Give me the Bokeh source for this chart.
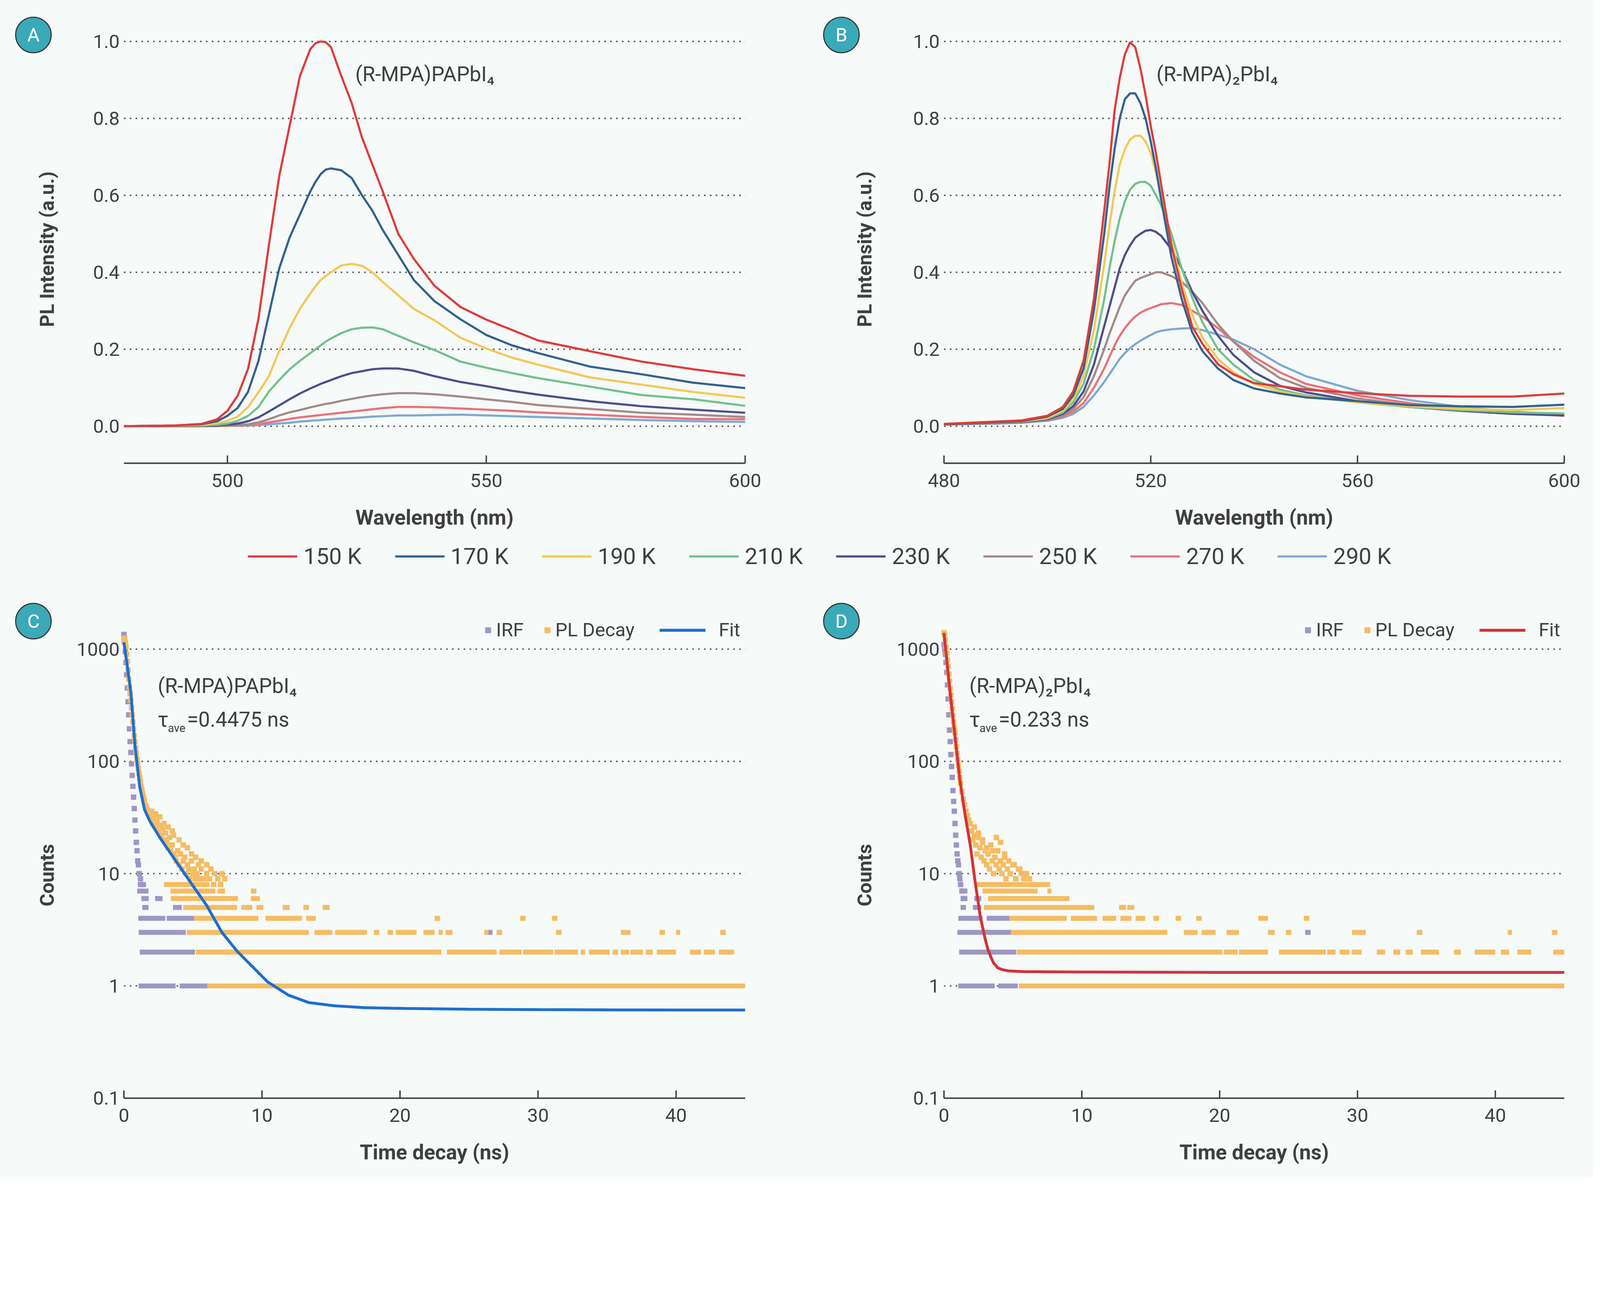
from bokeh.plotting import figure
from bokeh.models import ColumnDataSource, Label, Legend, LegendItem, Range1d
from bokeh.core.properties import value
from bokeh.layouts import column, row
from bokeh.embed import file_html
from bokeh.resources import INLINE

BG = "#f6faf9"
INK = "#404040"
TEAL = "#3aa9b8"

# ---------------- temperature series ----------------
temps = ["150 K", "170 K", "190 K", "210 K", "230 K", "250 K", "270 K", "290 K"]
temp_colors = ["#e03c3a", "#33628f", "#f3c955", "#72c18d", "#4e4e8c", "#a38a88", "#e8737a", "#7ea9d3"]

# panel A: (R-MPA)PAPbI4
wl_a = [480, 490, 495, 498, 500, 502, 504, 506, 508, 510, 512, 514, 516, 517, 518, 519, 520, 522,
        524, 526, 528, 530, 533, 536, 540, 545, 550, 555, 560, 570, 580, 590, 600]
pl_a_150 = [0, 0.002, 0.006, 0.018, 0.04, 0.08, 0.15, 0.28, 0.47, 0.65, 0.78, 0.91, 0.98, 0.995, 1.0, 0.998, 0.985, 0.91,
            0.84, 0.75, 0.68, 0.61, 0.50, 0.435, 0.365, 0.31, 0.277, 0.25, 0.223, 0.195, 0.168, 0.148, 0.131]
pl_a_170 = [0, 0.002, 0.005, 0.013, 0.027, 0.048, 0.09, 0.17, 0.29, 0.41, 0.49, 0.55, 0.61, 0.635, 0.655, 0.667, 0.67, 0.665,
            0.645, 0.60, 0.56, 0.51, 0.445, 0.38, 0.325, 0.278, 0.237, 0.21, 0.19, 0.155, 0.135, 0.113, 0.099]
pl_a_190 = [0, 0.001, 0.003, 0.008, 0.014, 0.025, 0.05, 0.088, 0.13, 0.195, 0.255, 0.305, 0.345, 0.363, 0.38, 0.39, 0.40, 0.418,
            0.422, 0.417, 0.40, 0.375, 0.34, 0.305, 0.275, 0.23, 0.202, 0.178, 0.16, 0.127, 0.108, 0.089, 0.074]
pl_a_210 = [0, 0.001, 0.002, 0.004, 0.007, 0.014, 0.027, 0.05, 0.09, 0.12, 0.148, 0.17, 0.19, 0.20, 0.21, 0.22, 0.228, 0.242,
            0.252, 0.256, 0.257, 0.252, 0.235, 0.218, 0.198, 0.168, 0.152, 0.138, 0.125, 0.103, 0.081, 0.07, 0.053]
pl_a_230 = [0, 0, 0.001, 0.002, 0.004, 0.007, 0.013, 0.023, 0.038, 0.054, 0.07, 0.085, 0.098, 0.104, 0.11, 0.115, 0.12, 0.13,
            0.138, 0.143, 0.148, 0.15, 0.15, 0.144, 0.13, 0.115, 0.104, 0.092, 0.082, 0.065, 0.052, 0.043, 0.035]
pl_a_250 = [0, 0, 0.001, 0.001, 0.002, 0.003, 0.005, 0.01, 0.018, 0.028, 0.036, 0.042, 0.049, 0.052, 0.055, 0.058, 0.06, 0.066,
            0.071, 0.076, 0.08, 0.083, 0.086, 0.086, 0.083, 0.077, 0.07, 0.063, 0.055, 0.045, 0.035, 0.03, 0.024]
pl_a_270 = [0, 0, 0, 0.001, 0.001, 0.002, 0.003, 0.005, 0.01, 0.014, 0.019, 0.023, 0.026, 0.0275, 0.029, 0.0305, 0.032, 0.035,
            0.038, 0.041, 0.044, 0.047, 0.05, 0.05, 0.049, 0.046, 0.043, 0.04, 0.036, 0.03, 0.024, 0.019, 0.018]
pl_a_290 = [0, 0, 0, 0, 0.001, 0.001, 0.002, 0.003, 0.005, 0.007, 0.009, 0.012, 0.014, 0.015, 0.016, 0.017, 0.018, 0.02,
            0.021, 0.023, 0.025, 0.026, 0.028, 0.028, 0.029, 0.03, 0.028, 0.026, 0.024, 0.02, 0.016, 0.013, 0.011]

# panel B: (R-MPA)2PbI4
wl_b = [480, 490, 495, 500, 503, 505, 507, 509, 511, 512, 513, 514, 515, 516, 517, 518, 519, 520,
        521, 522, 524, 526, 528, 530, 533, 536, 540, 545, 550, 560, 570, 580, 590, 600]
pl_b_150 = [0.006, 0.012, 0.015, 0.027, 0.05, 0.09, 0.17, 0.33, 0.56, 0.68, 0.82, 0.905, 0.967, 0.998, 0.985, 0.93, 0.86, 0.78,
            0.71, 0.63, 0.47, 0.356, 0.26, 0.214, 0.161, 0.135, 0.112, 0.104, 0.095, 0.086, 0.079, 0.077, 0.077, 0.085]
pl_b_170 = [0.005, 0.01, 0.013, 0.025, 0.045, 0.08, 0.15, 0.30, 0.50, 0.62, 0.72, 0.80, 0.85, 0.865, 0.865, 0.84, 0.80, 0.74,
            0.67, 0.59, 0.44, 0.33, 0.245, 0.195, 0.15, 0.12, 0.098, 0.085, 0.075, 0.065, 0.055, 0.052, 0.05, 0.056]
pl_b_190 = [0.005, 0.009, 0.012, 0.022, 0.04, 0.07, 0.13, 0.25, 0.42, 0.52, 0.61, 0.68, 0.72, 0.745, 0.755, 0.755, 0.74, 0.71,
            0.66, 0.60, 0.48, 0.37, 0.29, 0.23, 0.175, 0.14, 0.11, 0.09, 0.077, 0.062, 0.052, 0.045, 0.042, 0.047]
pl_b_210 = [0.005, 0.009, 0.012, 0.02, 0.036, 0.062, 0.11, 0.20, 0.33, 0.41, 0.48, 0.54, 0.585, 0.615, 0.63, 0.635, 0.635, 0.625,
            0.60, 0.575, 0.50, 0.41, 0.335, 0.27, 0.20, 0.16, 0.12, 0.095, 0.08, 0.062, 0.05, 0.042, 0.036, 0.033]
pl_b_230 = [0.005, 0.008, 0.011, 0.018, 0.032, 0.052, 0.09, 0.16, 0.26, 0.31, 0.36, 0.41, 0.445, 0.47, 0.49, 0.50, 0.508, 0.51,
            0.505, 0.495, 0.46, 0.41, 0.35, 0.30, 0.235, 0.185, 0.14, 0.105, 0.088, 0.065, 0.05, 0.04, 0.032, 0.028]
pl_b_250 = [0.005, 0.008, 0.01, 0.017, 0.028, 0.045, 0.075, 0.13, 0.20, 0.24, 0.275, 0.31, 0.34, 0.36, 0.378, 0.385, 0.39, 0.395,
            0.40, 0.40, 0.39, 0.375, 0.35, 0.32, 0.265, 0.22, 0.17, 0.125, 0.10, 0.072, 0.055, 0.043, 0.035, 0.028]
pl_b_270 = [0.005, 0.008, 0.01, 0.016, 0.025, 0.038, 0.06, 0.10, 0.15, 0.18, 0.21, 0.235, 0.255, 0.272, 0.285, 0.295, 0.302, 0.307,
            0.312, 0.317, 0.32, 0.315, 0.30, 0.285, 0.255, 0.22, 0.18, 0.14, 0.11, 0.08, 0.06, 0.045, 0.035, 0.027]
pl_b_290 = [0.004, 0.007, 0.009, 0.014, 0.022, 0.032, 0.05, 0.08, 0.115, 0.135, 0.155, 0.175, 0.19, 0.203, 0.213, 0.222, 0.23, 0.237,
            0.244, 0.248, 0.252, 0.254, 0.255, 0.25, 0.238, 0.225, 0.20, 0.16, 0.13, 0.092, 0.068, 0.05, 0.038, 0.03]

pl_ticks = [0, 0.2, 0.4, 0.6, 0.8, 1.0]
pl_tick_labels = ["0.0", "0.2", "0.4", "0.6", "0.8", "1.0"]
wl_ticks_a = [500, 550, 600]
wl_ticks_b = [480, 520, 560, 600]

# ---------------- decay panels ----------------
IRF_COLOR = "#9f96c4"
PL_COLOR = "#f5bc63"
count_ticks = [0.1, 1, 10, 100, 1000]
count_tick_labels = ["0.1", "1", "10", "100", "1000"]
count_grid = [1, 10, 100, 1000]
time_ticks = [0, 10, 20, 30, 40]

# panel C (R-MPA)PAPbI4: steep part of the curves, then runs of markers at integer count levels
irf_c_t = [0.0, 0.05, 0.1, 0.15, 0.2, 0.25, 0.3, 0.35, 0.4, 0.45, 0.5, 0.55, 0.6, 0.65, 0.7, 0.75, 0.8,
           0.85, 0.9, 0.95, 1.0, 1.05, 1.1, 1.2, 1.3]
irf_c_n = [1350, 1150, 950, 760, 590, 450, 340, 260, 195, 150, 120, 95, 75, 60, 48, 38, 30,
           24, 19, 16, 13, 12, 10, 9, 8]
pl_c_t = [0.0, 0.05, 0.1, 0.15, 0.2, 0.25, 0.3, 0.35, 0.4, 0.45, 0.5, 0.55, 0.6, 0.65, 0.7, 0.75, 0.8,
          0.85, 0.9, 0.95, 1.0, 1.05, 1.1, 1.15, 1.2, 1.25, 1.3, 1.35, 1.4, 1.45, 1.5, 1.6, 1.7, 1.8,
          1.9, 2.0, 2.1, 2.2, 2.3, 2.4, 2.5, 2.6, 2.7, 2.8, 2.9, 3.0, 3.1, 3.2, 3.3, 3.4, 3.5, 3.6,
          3.7, 3.8, 3.9, 4.0, 4.1, 4.2, 4.3, 4.4, 4.5, 4.6, 4.7, 4.8, 4.9, 5.0, 5.1, 5.2, 5.3, 5.4,
          5.5, 5.6, 5.8, 6.0, 6.2, 6.5, 6.8, 7.1, 7.3,
          2.0, 2.3, 2.6, 2.9, 3.2, 3.5, 3.6, 4.0, 4.3, 4.6, 4.9, 5.2, 5.6, 6.0, 6.3, 6.6, 7.0]
pl_c_n = [1200, 1250, 1150, 1050, 900, 780, 650, 540, 460, 400, 350, 300, 260, 225, 195, 170, 150,
          132, 118, 105, 95, 86, 78, 72, 66, 60, 56, 52, 49, 46, 44, 40, 37, 35,
          33, 30, 28, 31, 26, 29, 24, 27, 22, 25, 20, 23, 19, 17, 21, 16, 18, 15,
          14, 13, 16, 12, 15, 11, 13, 14, 10, 12, 11, 9, 13, 10, 11, 9, 10, 12,
          9, 11, 9, 10, 9, 8, 9, 10, 9,
          36, 34, 32, 28, 26, 24, 22, 20, 18, 17, 15, 14, 13, 12, 11, 10, 8]
irf_c_runs = [(1, 1.07, 3.74), (1, 4.04, 6.04), (2, 1.15, 5.15), (3, 1.07, 4.48), (3, 26.4, 26.7),
              (4, 1.04, 3.0), (4, 3.1, 5.1), (5, 1.33, 1.78), (5, 3.56, 4.19), (6, 1.26, 1.8),
              (6, 2.26, 2.8), (7, 0.96, 1.78), (8, 1.0, 1.6)]
pl_c_runs = [(1, 6.04, 45.0),
             (2, 5.22, 23.0), (2, 23.4, 27.0), (2, 27.2, 28.8), (2, 28.9, 31.1), (2, 31.2, 32.9),
             (2, 33.1, 33.4), (2, 33.7, 35.2), (2, 35.4, 35.8), (2, 36.0, 36.6), (2, 36.7, 37.6),
             (2, 37.8, 38.3), (2, 38.6, 40.0), (2, 41.0, 41.8), (2, 42.0, 42.8), (2, 43.1, 44.2),
             (3, 4.55, 13.4), (3, 13.8, 15.1), (3, 15.3, 17.6), (3, 18.1, 18.5), (3, 19.1, 19.5),
             (3, 19.7, 21.2), (3, 21.7, 22.5), (3, 22.8, 23.1), (3, 23.3, 23.8), (3, 26.1, 26.4),
             (3, 27.0, 27.4), (3, 31.3, 31.7), (3, 36.0, 36.7), (3, 38.8, 39.2), (3, 40.0, 40.3),
             (3, 43.2, 43.6),
             (4, 5.1, 9.74), (4, 10.26, 12.9), (4, 13.2, 13.9), (4, 22.5, 22.9), (4, 28.7, 29.1),
             (4, 31.0, 31.4),
             (5, 4.3, 8.2), (5, 8.5, 9.3), (5, 9.6, 10.1), (5, 11.5, 12.0), (5, 13.0, 13.4), (5, 14.4, 14.9),
             (6, 3.4, 8.26), (6, 9.2, 9.85),
             (7, 3.37, 6.63), (7, 6.8, 7.33), (7, 9.2, 9.6),
             (8, 2.9, 6.2)]
fit_c_t = [0, 0.25, 0.5, 0.8, 1.15, 1.5, 1.9, 2.6, 3.7, 4.85, 6.0, 7.1, 8.2, 9.3, 10.4, 11.9,
           13.4, 15.2, 17.4, 20.4, 25, 30, 35, 40, 45]
fit_c_n = [1150, 700, 415, 139, 59, 37, 29, 21, 13.3, 8.3, 5.2, 3.0, 2.04, 1.49, 1.09, 0.83,
           0.71, 0.667, 0.64, 0.63, 0.62, 0.615, 0.612, 0.61, 0.61]

# panel D (R-MPA)2PbI4
irf_d_t = [0.0, 0.05, 0.1, 0.15, 0.2, 0.25, 0.3, 0.35, 0.4, 0.45, 0.5, 0.55, 0.6, 0.65, 0.7, 0.75,
           0.8, 0.85, 0.9, 0.95, 1.0, 1.05, 1.1, 1.15, 1.2, 1.3, 1.4]
irf_d_n = [1100, 1000, 900, 760, 620, 480, 360, 260, 190, 150, 115, 90, 72, 55, 44, 36,
           28, 22, 18, 15, 13, 12, 10, 9, 8, 7, 6]
pl_d_t = [0.0, 0.05, 0.1, 0.15, 0.2, 0.25, 0.3, 0.35, 0.4, 0.45, 0.5, 0.55, 0.6, 0.65, 0.7, 0.75,
          0.8, 0.85, 0.9, 0.95, 1.0, 1.05, 1.1, 1.15, 1.2, 1.3, 1.4, 1.5, 1.6, 1.7, 1.8, 1.9,
          2.0, 2.1, 2.2, 2.3, 2.4, 2.5, 2.6, 2.7, 2.8, 2.9, 3.0, 3.1, 3.2, 3.3, 3.4, 3.5, 3.6,
          3.7, 3.8, 3.9, 4.0, 4.1, 4.2, 4.3, 4.4, 4.5, 4.6, 4.8, 5.0, 5.2, 5.4, 5.6, 5.8, 6.0, 6.2, 6.5,
          2.2, 2.5, 2.8, 3.1, 3.5, 3.8, 4.1, 4.4, 4.7, 5.1, 5.5, 5.9]
pl_d_n = [1400, 1350, 1200, 1050, 920, 800, 700, 600, 520, 450, 390, 340, 295, 255, 225, 200,
          180, 155, 135, 118, 104, 92, 82, 72, 64, 54, 46, 41, 36, 33, 30, 28,
          24, 20, 22, 18, 15, 21, 17, 14, 19, 13, 16, 12, 15, 11, 18, 13, 10,
          14, 12, 16, 11, 13, 10, 12, 14, 9, 11, 10, 12, 9, 11, 10, 9, 10, 9, 8,
          26, 23, 20, 17, 16, 21, 19, 15, 13, 12, 11, 10]
irf_d_runs = [(1, 1.04, 3.68), (1, 3.94, 5.35), (2, 1.1, 5.24), (3, 0.97, 4.87), (3, 26.2, 26.6),
              (4, 1.04, 2.8), (4, 3.1, 4.75), (5, 1.2, 1.6), (5, 2.1, 2.7), (6, 1.26, 1.7),
              (6, 2.2, 2.7), (7, 1.26, 1.7)]
pl_d_runs = [(1, 5.43, 45.0),
             (2, 5.28, 20.2), (2, 20.3, 21.3), (2, 21.4, 23.5), (2, 24.3, 27.7), (2, 27.8, 28.4),
             (2, 28.7, 29.4), (2, 29.6, 30.3), (2, 31.4, 32.0), (2, 32.6, 33.1), (2, 33.5, 34.0),
             (2, 34.6, 35.9), (2, 37.0, 37.5), (2, 38.5, 40.0), (2, 40.4, 41.0), (2, 41.6, 42.6),
             (2, 44.2, 45.0),
             (3, 4.87, 16.2), (3, 17.4, 18.4), (3, 18.7, 19.7), (3, 20.5, 21.4), (3, 23.5, 24.0),
             (3, 24.8, 25.2), (3, 29.6, 30.6), (3, 34.3, 34.7), (3, 40.9, 41.2), (3, 44.1, 44.5),
             (4, 4.76, 8.9), (4, 9.2, 11.1), (4, 11.5, 12.5), (4, 12.8, 13.6), (4, 13.9, 14.6),
             (4, 15.2, 15.6), (4, 16.8, 17.2), (4, 18.3, 18.7), (4, 22.8, 23.5), (4, 26.1, 26.5),
             (5, 2.9, 10.9), (5, 12.7, 13.2), (5, 13.3, 13.8),
             (6, 3.2, 9.1),
             (7, 2.8, 6.8), (7, 7.5, 7.8),
             (8, 2.3, 7.7)]
fit_d_t = [0, 0.41, 0.78, 1.15, 1.52, 1.9, 2.27, 2.64, 3.0, 3.2, 3.4, 3.6, 3.9, 4.2, 4.7, 5.8, 10, 20, 30, 45]
fit_d_n = [1394, 449, 176, 69, 34, 18.2, 8.3, 4.1, 2.58, 2.1, 1.81, 1.6, 1.45, 1.4, 1.36, 1.34, 1.33, 1.32, 1.32, 1.32]


def lin_map(v0, p0, v1, p1):
    """pixel -> data along one side of a figure, given two known anchor points"""
    k = (p1 - p0) / (v1 - v0)
    return lambda px: v0 + (px - p0) / k


def new_fig(width, height, fx, fy, log=False):
    # the frame fills the whole figure; axes are drawn by hand so badges fit inside it
    # fx takes pixels from the left edge, fy pixels from the bottom edge
    yr = (fy(0), fy(height))
    if log:
        yr = (10 ** yr[0], 10 ** yr[1])
    p = figure(width=width, height=height, x_range=Range1d(fx(0), fx(width)), y_range=Range1d(*yr),
               y_axis_type="log" if log else "linear",
               x_axis_location=None, y_axis_location=None,
               output_backend="svg", toolbar_location=None,
               background_fill_color=BG, border_fill_color=BG, min_border=0)
    p.outline_line_color = None
    p.grid.visible = False
    return p


def draw_axes(p, x0, x1, y0, tick_top, xticks, ylabels_at, ylabels, grid_vals, xtitle):
    n = len(grid_vals)
    p.segment(x0=[x0] * n, y0=grid_vals, x1=[x1] * n, y1=grid_vals,
              line_color="#555555", line_width=3.6, line_dash="4 11")
    p.segment(x0=[x0], y0=[y0], x1=[x1], y1=[y0], line_color=INK, line_width=3.6)
    p.segment(x0=xticks, y0=[y0] * len(xticks), x1=xticks, y1=[tick_top] * len(xticks),
              line_color=INK, line_width=3.6)
    p.text(x=xticks, y=[y0] * len(xticks), text=[str(t) for t in xticks], y_offset=44,
           text_align="center", text_baseline="middle", text_font=value("Roboto"),
           text_font_size="49px", text_color=INK)
    p.text(x=[(x0 + x1) / 2], y=[y0], text=[xtitle], y_offset=139,
           text_align="center", text_baseline="middle", text_font=value("Roboto"),
           text_font_size="53px", text_font_style="bold", text_color=INK)
    p.text(x=[x0] * len(ylabels_at), y=ylabels_at, text=ylabels, x_offset=-11,
           text_align="right", text_baseline="middle", text_font=value("Roboto"),
           text_font_size="49px", text_color=INK)


def y_title(p, x, y, title):
    p.add_layout(Label(x=x, y=y, text=title, angle=90, angle_units="deg",
                       text_align="center", text_baseline="middle", text_font="Roboto",
                       text_font_size="50px", text_font_style="bold", text_color=INK))


def tag(p, letter, x, y):
    p.scatter(x=[x], y=[y], marker="circle", size=91, fill_color=TEAL,
              line_color="#333333", line_width=2.7)
    p.text(x=[x], y=[y], text=[letter], text_align="center", text_baseline="middle",
           text_font=value("Roboto"), text_font_size="48px", text_color="white")


def note(p, x, y, txt, size="53px", **kw):
    p.add_layout(Label(x=x, y=y, text=txt, text_font="Roboto", text_font_size=size,
                       text_color=INK, text_baseline="middle", **kw))


# top row geometry (pixels from the bottom of each figure): rows of y=0 and y=1
TOP_H = 1384
fy_top = lin_map(0, TOP_H - 1090.6, 1, TOP_H - 105.6)
AXIS_Y_TOP = fy_top(TOP_H - 1185.4)
TICK_Y_TOP = fy_top(TOP_H - 1165.4)


def spectra_panel(width, fx, wl, series, ticks, letter, tag_px, title_px, formula, fx_note):
    p = new_fig(width, TOP_H, fx, fy_top)
    draw_axes(p, 480, 600, AXIS_Y_TOP, TICK_Y_TOP, ticks, pl_ticks, pl_tick_labels, pl_ticks,
              "Wavelength (nm)")
    y_title(p, fx(title_px), 0.46, "PL Intensity (a.u.)")
    src = ColumnDataSource(dict(wl=wl, **{f"s{i}": s for i, s in enumerate(series)}))
    for i in reversed(range(len(series))):
        p.line("wl", f"s{i}", source=src, color=temp_colors[i], line_width=5.5)
    note(p, fx_note, 0.915, formula)
    tag(p, letter, fx(tag_px), fy_top(TOP_H - 89))
    return p


# bottom row geometry: rows of log10 counts -1 and 3
BOT_H = 1525
fy_bot = lin_map(-1, BOT_H - 1322.9, 3, BOT_H - 173.2)


def runs_source(runs):
    return ColumnDataSource(dict(lv=[r[0] for r in runs], t0=[r[1] for r in runs], t1=[r[2] for r in runs]))


def decay_panel(width, fx, irf_t, irf_n, irf_runs, pl_t, pl_n, pl_runs, fit_t, fit_n,
                fit_color, letter, tag_px, title_px, leg_x, formula, fx_note, tau_text):
    p = new_fig(width, BOT_H, fx, fy_bot, log=True)
    draw_axes(p, 0, 45, 0.1, 10 ** fy_bot(BOT_H - 1302.9), time_ticks, count_ticks,
              count_tick_labels, count_grid, "Time decay (ns)")
    y_title(p, fx(title_px), 9.7, "Counts")

    irf = p.scatter(irf_t, irf_n, marker="square", size=12.7, color=IRF_COLOR)
    p.segment("t0", "lv", "t1", "lv", source=runs_source(irf_runs), color=IRF_COLOR,
              line_width=12.7, line_cap="butt")
    pl = p.scatter(pl_t, pl_n, marker="square", size=12.7, color=PL_COLOR)
    p.segment("t0", "lv", "t1", "lv", source=runs_source(pl_runs), color=PL_COLOR,
              line_width=12.7, line_cap="butt")
    fit = p.line(fit_t, fit_n, color=fit_color, line_width=7.3)

    common = dict(orientation="horizontal", padding=0, margin=0, background_fill_alpha=0,
                  border_line_color=None, label_text_font="Roboto", label_text_font_size="49px",
                  label_text_color=INK, glyph_height=36)
    p.add_layout(Legend(items=[LegendItem(label="IRF", renderers=[irf]),
                               LegendItem(label="PL Decay", renderers=[pl])],
                        location=(leg_x, 1372), glyph_width=36, label_standoff=3, spacing=42, **common))
    p.add_layout(Legend(items=[LegendItem(label="Fit", renderers=[fit])],
                        location=(leg_x + 457, 1372), glyph_width=118, label_standoff=34, **common))

    note(p, fx_note, 468, formula)
    note(p, fx_note, 236, "τ")
    p.add_layout(Label(x=fx_note, y=236, x_offset=26, y_offset=-22, text="ave", text_font="Roboto",
                       text_font_size="29px", text_color=INK, text_baseline="middle"))
    note(p, fx_note, 236, tau_text, x_offset=75)
    tag(p, letter, fx(tag_px), 10 ** fy_bot(BOT_H - 101.6))
    return p


fx_a = lin_map(480, 316.7, 600, 1907)
fx_b = lin_map(480, 365.1, 600, 1953)
fx_c = lin_map(0, 316.7, 45, 1907)
fx_d = lin_map(0, 365.1, 45, 1953)

pa = spectra_panel(2051, fx_a, wl_a,
                   [pl_a_150, pl_a_170, pl_a_190, pl_a_210, pl_a_230, pl_a_250, pl_a_270, pl_a_290],
                   wl_ticks_a, "A", 85, 120.4, "(R-MPA)PAPbI₄", 524.7)
pb = spectra_panel(2027, fx_b, wl_b,
                   [pl_b_150, pl_b_170, pl_b_190, pl_b_210, pl_b_230, pl_b_250, pl_b_270, pl_b_290],
                   wl_ticks_b, "B", 102.5, 162.8, "(R-MPA)₂PbI₄", 521.1)

# shared temperature legend: the lines carry panel A data but sit outside the visible range
pl_leg = figure(width=4078, height=104, x_range=Range1d(0, 1), y_range=Range1d(0, 1),
                x_axis_type=None, y_axis_type=None, output_backend="svg", toolbar_location=None,
                background_fill_color=BG, border_fill_color=BG, min_border=0)
pl_leg.outline_line_color = None
pl_leg.grid.visible = False
leg_items = []
for name, c, s in zip(temps, temp_colors,
                      [pl_a_150, pl_a_170, pl_a_190, pl_a_210, pl_a_230, pl_a_250, pl_a_270, pl_a_290]):
    r = pl_leg.line(wl_a, s, color=c, line_width=5.5)
    leg_items.append(LegendItem(label=name, renderers=[r]))
pl_leg.add_layout(Legend(items=leg_items, orientation="horizontal", location=(634, 30),
                         padding=0, margin=0, background_fill_alpha=0, border_line_color=None,
                         glyph_width=127, glyph_height=36, label_standoff=16, spacing=85,
                         label_text_font="Roboto", label_text_font_size="58px",
                         label_text_color=INK))

pc = decay_panel(2051, fx_c, irf_c_t, irf_c_n, irf_c_runs, pl_c_t, pl_c_n, pl_c_runs,
                 fit_c_t, fit_c_n, "#1c6fd1", "C", 85, 120.4, 1231,
                 "(R-MPA)PAPbI₄", 2.45, "=0.4475 ns")
pd_ = decay_panel(2027, fx_d, irf_d_t, irf_d_n, irf_d_runs, pl_d_t, pl_d_n, pl_d_runs,
                  fit_d_t, fit_d_n, "#d1343a", "D", 102.5, 162.8, 1279,
                  "(R-MPA)₂PbI₄", 1.84, "=0.233 ns")

layout = column(row(pa, pb, spacing=0), pl_leg, row(pc, pd_, spacing=0), spacing=0,
                styles={"background-color": BG})

open("out.html", "w").write(file_html(layout, INLINE))
